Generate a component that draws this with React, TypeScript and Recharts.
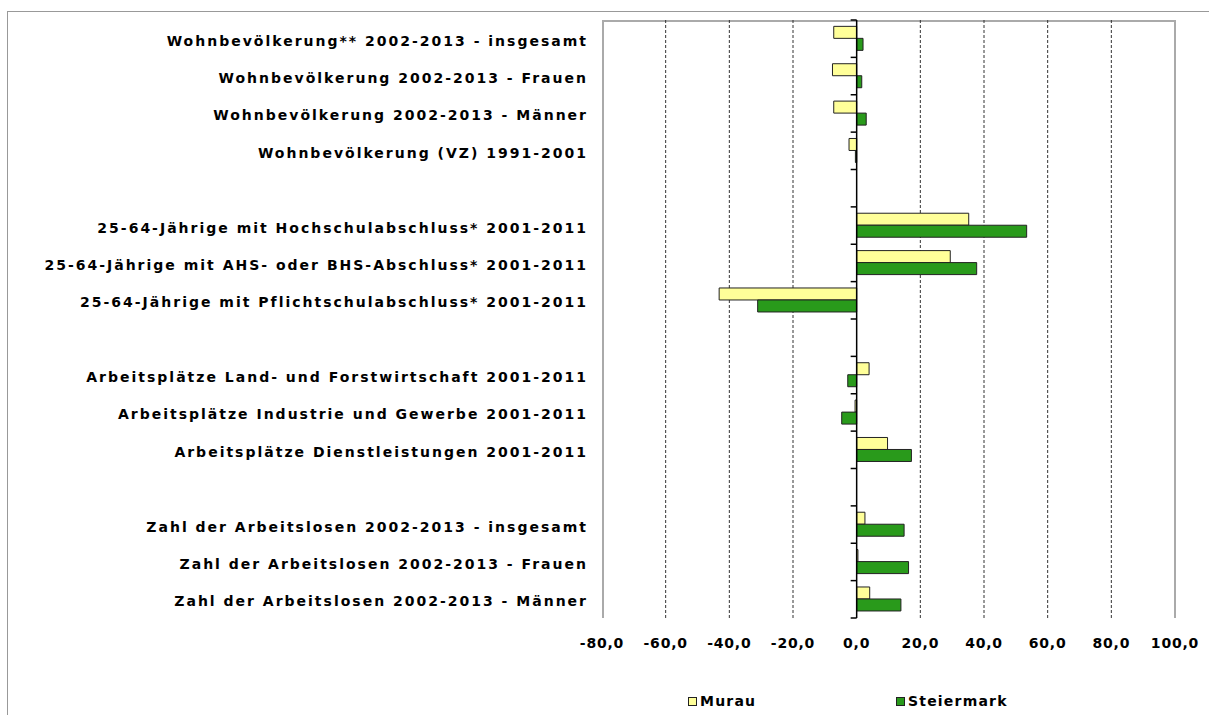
import { BarChart, Bar, XAxis, YAxis, CartesianGrid, ReferenceLine } from "recharts";

const categories = [
  "Wohnbevölkerung** 2002-2013 - insgesamt",
  "Wohnbevölkerung 2002-2013 - Frauen",
  "Wohnbevölkerung 2002-2013 - Männer",
  "Wohnbevölkerung (VZ) 1991-2001",
  "",
  "25-64-Jährige mit Hochschulabschluss* 2001-2011",
  "25-64-Jährige mit AHS- oder BHS-Abschluss* 2001-2011",
  "25-64-Jährige mit Pflichtschulabschluss* 2001-2011",
  "",
  "Arbeitsplätze Land- und Forstwirtschaft 2001-2011",
  "Arbeitsplätze Industrie und Gewerbe 2001-2011",
  "Arbeitsplätze Dienstleistungen 2001-2011",
  "",
  "Zahl der Arbeitslosen 2002-2013 - insgesamt",
  "Zahl der Arbeitslosen 2002-2013 - Frauen",
  "Zahl der Arbeitslosen 2002-2013 - Männer",
];

const murau = [-7.2, -7.6, -7.2, -2.4, null, 35.2, 29.4, -43.2, null, 3.9, -0.5, 9.7, null, 2.6, 0.4, 4.1];
const steiermark = [2.0, 1.6, 3.0, -0.4, null, 53.4, 37.7, -31.1, null, -2.8, -4.7, 17.2, null, 14.9, 16.3, 13.9];

const xTicks = [-80, -60, -40, -20, 0, 20, 40, 60, 80, 100];
const gridValues = [-60, -40, -20, 20, 40, 60, 80];

const data = categories.map((name, i) => ({
  name,
  Murau: murau[i],
  Steiermark: steiermark[i],
}));

const font = "'DejaVu Sans', Verdana, sans-serif";
const catStyle = { fontFamily: font, fontWeight: "bold", fontSize: 14, letterSpacing: 2, fill: "#000", dy: 2 };
const numStyle = { fontFamily: font, fontWeight: "bold", fontSize: 14, letterSpacing: 0.8, fill: "#000" };

const AxisWithTicks = (props: any) => {
  const { x1, y1, x2, y2 } = props;
  const n = categories.length;
  const step = (y2 - y1) / n;
  const marks = [];
  for (let i = 0; i <= n; i++) {
    const y = y1 + i * step;
    marks.push(<line key={i} x1={x1 - 6} x2={x1} y1={y} y2={y} stroke="#000" strokeWidth={1.5} />);
  }
  return (
    <g>
      <line x1={x1} y1={y1} x2={x2} y2={y2} stroke="#000" strokeWidth={1.5} />
      {marks}
    </g>
  );
};

const legendItems = [
  { label: "Murau", color: "#FFFF99", left: 688 },
  { label: "Steiermark", color: "#299A1B", left: 896 },
];

export default function App() {
  return (
    <div style={{ position: "absolute", left: 0, top: 0, width: 1209, height: 715, background: "#fff", overflow: "hidden" }}>
      <div style={{ position: "absolute", left: 7, top: 11, width: 1300, height: 800, borderTop: "1px solid #999", borderLeft: "1px solid #999" }} />
      <div style={{ position: "absolute", left: 602, top: 20, width: 574, height: 598, borderTop: "2px solid #aaa", borderLeft: "2px solid #aaa", borderRight: "2px solid #aaa", boxSizing: "border-box" }} />
      <div style={{ position: "absolute", left: 0, top: 0 }}>
        <BarChart
          width={1209}
          height={715}
          data={data}
          layout="vertical"
          margin={{ top: 20, right: 34, left: 0, bottom: 67 }}
          barCategoryGap="17%"
          barGap={0}
        >
          <CartesianGrid horizontal={false} vertical verticalValues={gridValues} stroke="#333" strokeDasharray="3 2" />
          <XAxis
            type="number"
            domain={[-80, 100]}
            ticks={xTicks}
            interval={0}
            axisLine={false}
            tickLine={false}
            tickSize={0}
            tickMargin={20}
            height={30}
            tick={numStyle}
            tickFormatter={(v: number) => v.toFixed(1).replace(".", ",")}
          />
          <YAxis
            type="category"
            dataKey="name"
            width={602}
            interval={0}
            axisLine={false}
            tickLine={false}
            tickSize={0}
            tickMargin={14}
            tick={catStyle}
          />
          <Bar dataKey="Murau" fill="#FFFF99" stroke="#222" strokeWidth={1} isAnimationActive={false} />
          <Bar dataKey="Steiermark" fill="#299A1B" stroke="#222" strokeWidth={1} isAnimationActive={false} />
          <ReferenceLine x={0} shape={<AxisWithTicks />} />
        </BarChart>
      </div>
      {legendItems.map((it) => (
        <div
          key={it.label}
          style={{
            position: "absolute",
            left: it.left,
            top: 693,
            display: "flex",
            alignItems: "center",
            fontFamily: font,
            fontWeight: "bold",
            fontSize: 14,
            letterSpacing: 1.2,
          }}
        >
          <span style={{ width: 7, height: 7, background: it.color, border: "1px solid #222", marginRight: 3 }} />
          <span>{it.label}</span>
        </div>
      ))}
    </div>
  );
}
